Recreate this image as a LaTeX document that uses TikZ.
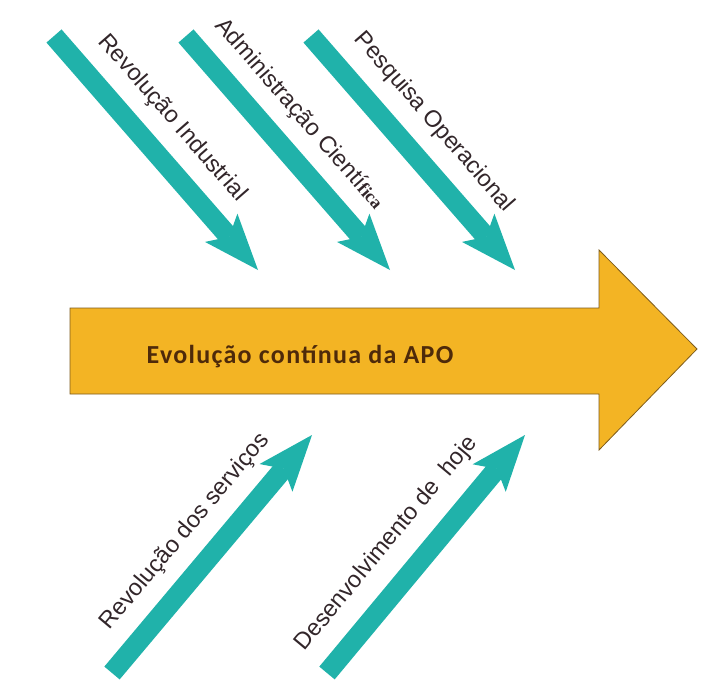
\documentclass[tikz,border=0pt]{standalone}
\usepackage{fontspec}
\setmainfont{Liberation Sans}
\newfontfamily\titlefont[LetterSpace=5]{Carlito}
\newfontfamily\oddfont{Liberation Serif}
\usetikzlibrary{arrows.meta,calc}

\definecolor{feedteal}{RGB}{32,178,170}
\definecolor{mainfill}{RGB}{243,180,36}
\definecolor{mainedge}{RGB}{125,92,28}
\definecolor{maintext}{RGB}{78,42,10}
\definecolor{labeltext}{RGB}{50,38,42}

\begin{document}
\begin{tikzpicture}[x=1pt,y=-1pt,
  feeder/.style={draw=feedteal, line width=20pt,
    -{Stealth[length=56pt,width=43pt,inset=12pt,line width=0pt]}},
  feedlabel/.style={text=labeltext, font=\fontsize{23.5}{27}\selectfont,
    sloped, inner sep=0pt},
  mainarrow/.style={fill=mainfill, draw=mainedge, line width=0.8pt},
  maintitle/.style={text=maintext, inner sep=0pt, anchor=base,
    font=\titlefont\bfseries\fontsize{26}{30}\selectfont}]
\useasboundingbox (0,0) rectangle (704,680);

% main arrow
\path[mainarrow] (70,308) -- (599,308) -- (599,250) -- (697,349)
  -- (599,450) -- (599,394) -- (70,394) -- cycle;
\node[maintitle] (title) at (300,363) {Evolução contínua da APO};

% tails and heads of the feeding arrows
\coordinate (t1) at (54,36);   \coordinate (h1) at (258,270);
\coordinate (t2) at (186,36);  \coordinate (h2) at (390,270);
\coordinate (t3) at (311,36);  \coordinate (h3) at (515,270);
\coordinate (t4) at (112,673); \coordinate (h4) at (312,435);
\coordinate (t5) at (327,673); \coordinate (h5) at (525,435);

\foreach \i in {1,...,5} \draw[feeder] (t\i) -- (h\i);

% labels run parallel to each arrow, beside its shaft
\path ($(t1)!35pt!90:(h1)$) -- ($(h1)!35pt!-90:(t1)$)
  node[feedlabel, pos=0.45] (l1) {Revolução Industrial};
\path ($(t2)!34pt!90:(h2)$) -- ($(h2)!34pt!-90:(t2)$)
  node[feedlabel, pos=0.43] (l2) {Administração Cientí{\oddfont\bfseries\fontsize{18}{20}\selectfont fica}};
\path ($(t3)!36pt!90:(h3)$) -- ($(h3)!36pt!-90:(t3)$)
  node[feedlabel, pos=0.47] (l3) {Pesquisa Operacional};
\path ($(t4)!35pt!90:(h4)$) -- ($(h4)!35pt!-90:(t4)$)
  node[feedlabel, pos=0.50] (l4) {Revolução dos serviços};
\path ($(t5)!37pt!90:(h5)$) -- ($(h5)!37pt!-90:(t5)$)
  node[feedlabel, pos=0.445] (l5) {Desenvolvimento de\ \ hoje};
\end{tikzpicture}
\end{document}
